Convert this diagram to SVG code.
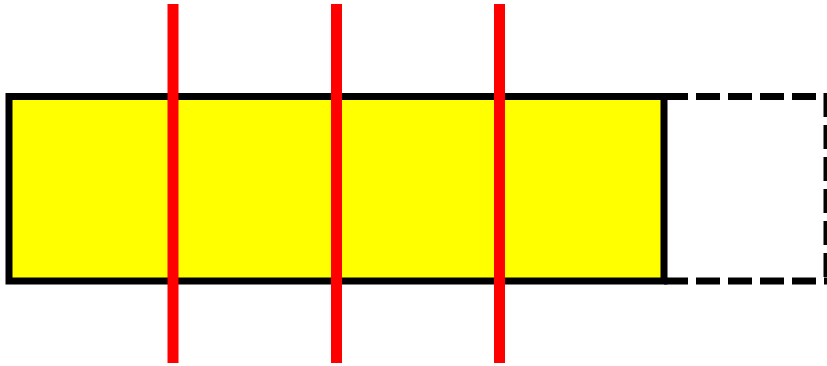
<svg xmlns="http://www.w3.org/2000/svg" width="827" height="366" viewBox="0 0 827 366">
  <style>
    .bar { fill: #ffff00; stroke: #000000; stroke-width: 7; }
    .ext { fill: none; stroke: #000000; stroke-width: 7; stroke-dasharray: 24 8; }
    .cut { stroke: #ff0000; stroke-width: 11; }
  </style>
  <g id="extension">
    <line class="ext" x1="664" y1="96.5" x2="830" y2="96.5"/>
    <line class="ext" x1="664" y1="281" x2="830" y2="281"/>
    <line class="ext" x1="827" y1="93" x2="827" y2="285"/>
  </g>
  <g id="bar">
    <rect class="bar" x="9" y="96.5" width="655" height="184.5"/>
  </g>
  <g id="connectors">
    <line class="cut" x1="173" y1="4" x2="173" y2="363"/>
    <line class="cut" x1="336.5" y1="4" x2="336.5" y2="363"/>
    <line class="cut" x1="499.5" y1="4" x2="499.5" y2="363"/>
  </g>
</svg>
